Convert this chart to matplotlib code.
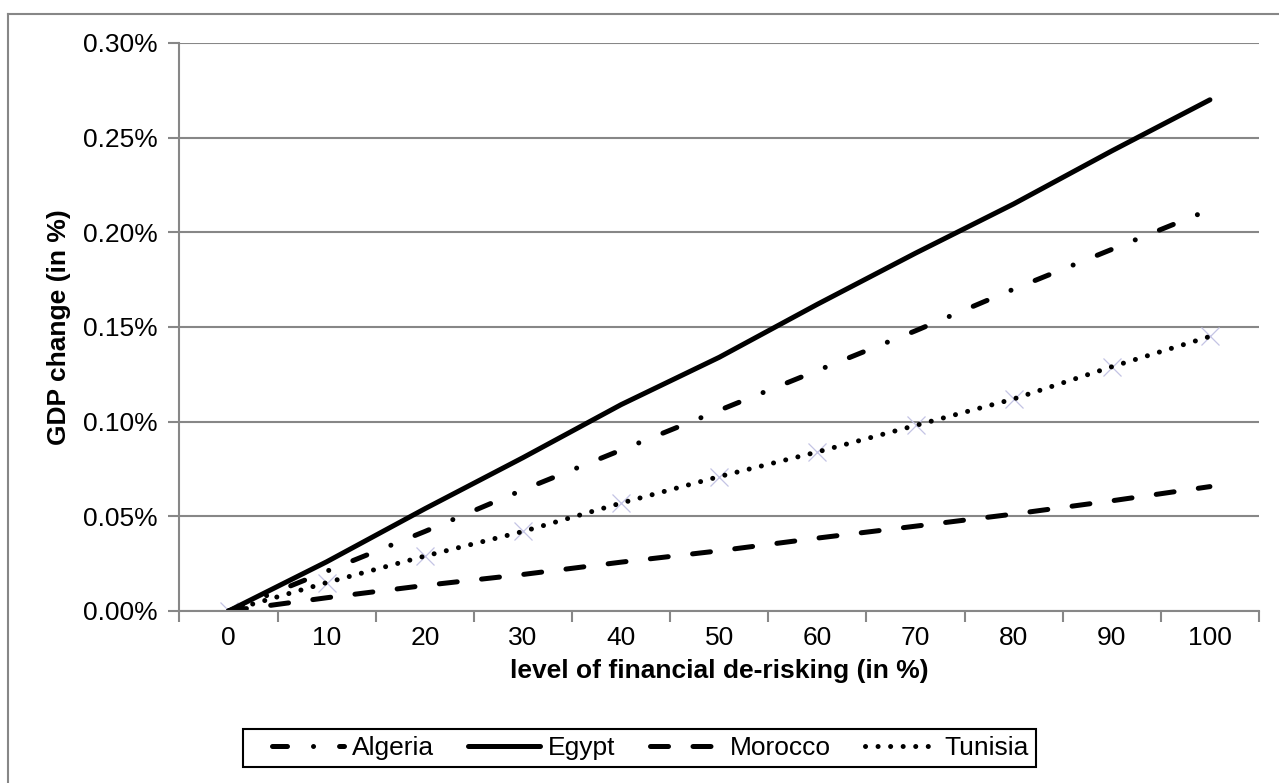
import matplotlib.pyplot as plt
import numpy as np
from matplotlib.lines import Line2D
from matplotlib.patches import Rectangle
from matplotlib.ticker import FixedLocator, FuncFormatter

plt.rcParams["font.family"] = ["Liberation Sans", "DejaVu Sans"]

# level of financial de-risking (in %)
levels = [0, 10, 20, 30, 40, 50, 60, 70, 80, 90, 100]

# GDP change (in %)
algeria = [0.0, 0.021, 0.042, 0.064, 0.085, 0.106, 0.127, 0.148, 0.170, 0.191, 0.212]
egypt = [0.0, 0.026, 0.054, 0.081, 0.109, 0.134, 0.162, 0.189, 0.215, 0.243, 0.270]
morocco = [0.0, 0.007, 0.0135, 0.0193, 0.0258, 0.0318, 0.0385, 0.0448, 0.0512, 0.0582, 0.0657]
tunisia = [0.0, 0.015, 0.029, 0.042, 0.057, 0.071, 0.084, 0.098, 0.112, 0.129, 0.145]

W, H = 1279, 783
FS = 19
fig = plt.figure(figsize=(W / 100, H / 100), dpi=100)
ax = fig.add_axes([179.5 / W, 1 - 611 / H, (1259 - 179.5) / W, (611 - 43) / H])

x = np.arange(len(levels))
lw = 3.6
common = dict(color="black", lw=lw, solid_capstyle="round", dash_capstyle="round",
              solid_joinstyle="round")

ax.plot(x, algeria, dashes=(3.0, 5.2, 0.01, 5.2), label="Algeria", **common)
ax.plot(x, egypt, label="Egypt", **common)
ax.plot(x, morocco, dashes=(3.6, 4.9), label="Morocco", **common)
ax.plot(x, tunisia, dashes=(0.01, 2.5), label="Tunisia", **common)
# faint x markers that sit on the Tunisia points
ax.plot(x, tunisia, ls="none", marker="x", ms=13, mew=0.9, color="#c4c4e4", zorder=1)

gray = "#878787"
ax.set_xlim(-0.5, len(levels) - 0.5)
ax.set_ylim(0, 0.30)
ax.set_xticks(x)
ax.set_xticklabels([str(v) for v in levels])
ax.xaxis.set_minor_locator(FixedLocator(np.arange(-0.5, len(levels), 1.0)))
ax.tick_params(axis="x", which="major", length=0, pad=11, labelsize=FS)
ax.tick_params(axis="x", which="minor", length=8, width=1.5, color=gray)

ax.set_yticks(np.arange(0, 0.301, 0.05))
ax.yaxis.set_major_formatter(FuncFormatter(lambda v, _: f"{v:.2f}%"))
ax.tick_params(axis="y", length=8, width=1.5, color=gray, pad=8, labelsize=FS)
ax.grid(axis="y", color=gray, lw=1.5)
ax.set_axisbelow(True)

for side in ("top", "right"):
    ax.spines[side].set_visible(False)
for side in ("left", "bottom"):
    ax.spines[side].set_color(gray)
    ax.spines[side].set_linewidth(1.5)

ax.set_xlabel("level of financial de-risking (in %)", fontsize=FS, fontweight="bold", labelpad=6)
ax.set_ylabel("GDP change (in %)", fontsize=FS, fontweight="bold", labelpad=8)

handles, labels = ax.get_legend_handles_labels()
leg = fig.legend(handles[:4], labels[:4], loc="center left",
                 bbox_to_anchor=(272 / W, 1 - 748 / H), ncol=4, fontsize=FS,
                 frameon=False, handlelength=2.73, handletextpad=0.3,
                 columnspacing=1.29, borderpad=0, borderaxespad=0)
# legend box drawn separately so the padding matches the original
fig.add_artist(Rectangle((243 / W, 1 - 767 / H), (1036 - 243) / W, 38 / H,
                         transform=fig.transFigure, fill=False, ec="black", lw=1.5))

# outer chart border
fig.add_artist(Line2D([8 / W, 8 / W], [0, 1 - 14 / H], color=gray, lw=1.5))
fig.add_artist(Line2D([8 / W, 1], [1 - 14 / H, 1 - 14 / H], color=gray, lw=1.5))

fig.savefig("out.png", dpi=100)
